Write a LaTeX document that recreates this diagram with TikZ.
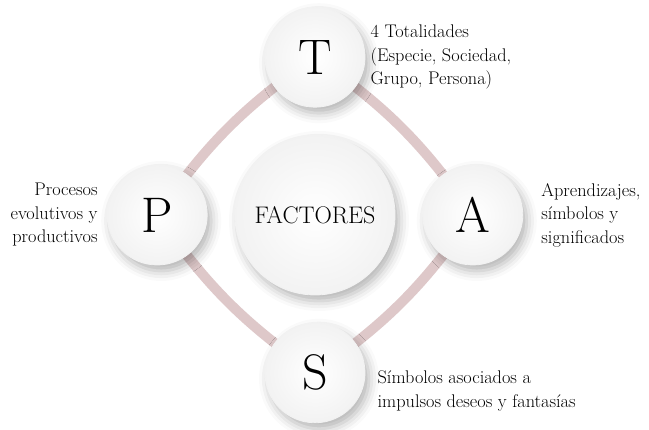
\documentclass[tikz,border=0pt]{standalone}
\usepackage{tikz}
\usetikzlibrary{positioning,backgrounds,shadows.blur}
\definecolor{rosa}{RGB}{222,200,201}

\begin{document}
\begin{tikzpicture}[
    x=1pt, y=1pt,
    node distance=27pt,
    every node/.style={align=left, font=\fontsize{18.3}{23.5}\selectfont, inner sep=0pt},
    ball/.style={circle, minimum size=100pt, shading=radial, inner color=white,
      outer color=black!5, draw=black!5, line width=0.8pt,
      blur shadow={shadow xshift=4pt, shadow yshift=-6pt, shadow blur radius=10pt, shadow opacity=30},
      font=\fontsize{50}{50}\selectfont},
    band/.style={rosa, line width=10pt}
  ]
  \useasboundingbox (0,0) rectangle (649,430);
  \node[ball, minimum size=160pt, font=\fontsize{24}{24}\selectfont] (factores) at (315,215) {FACTORES};
  \node[ball, above=of factores] (t) {T};
  \node[ball, right=of factores] (a) {A};
  \node[ball, below=of factores] (s) {S};
  \node[ball, left=of factores] (p) {P};

  \begin{scope}[on background layer]
    \draw[band] (t.center) to[bend left=10] (a.center)
      to[bend left=10] (s.center) to[bend left=10] (p.center)
      to[bend left=10] (t.center);
  \end{scope}

  \node[right=5pt of t] (t-txt) {4 Totalidades\\(Especie, Sociedad,\\Grupo, Persona)};
  \node[left=9pt of p, align=right] (p-txt) {Procesos\\evolutivos y\\productivos};
  \node[right=18pt of a] (a-txt) {Aprendizajes,\\símbolos y\\significados};
  \node[right=12pt of s, yshift=-18pt] (s-txt) {Símbolos asociados a\\impulsos deseos y fantasías};
\end{tikzpicture}
\end{document}
